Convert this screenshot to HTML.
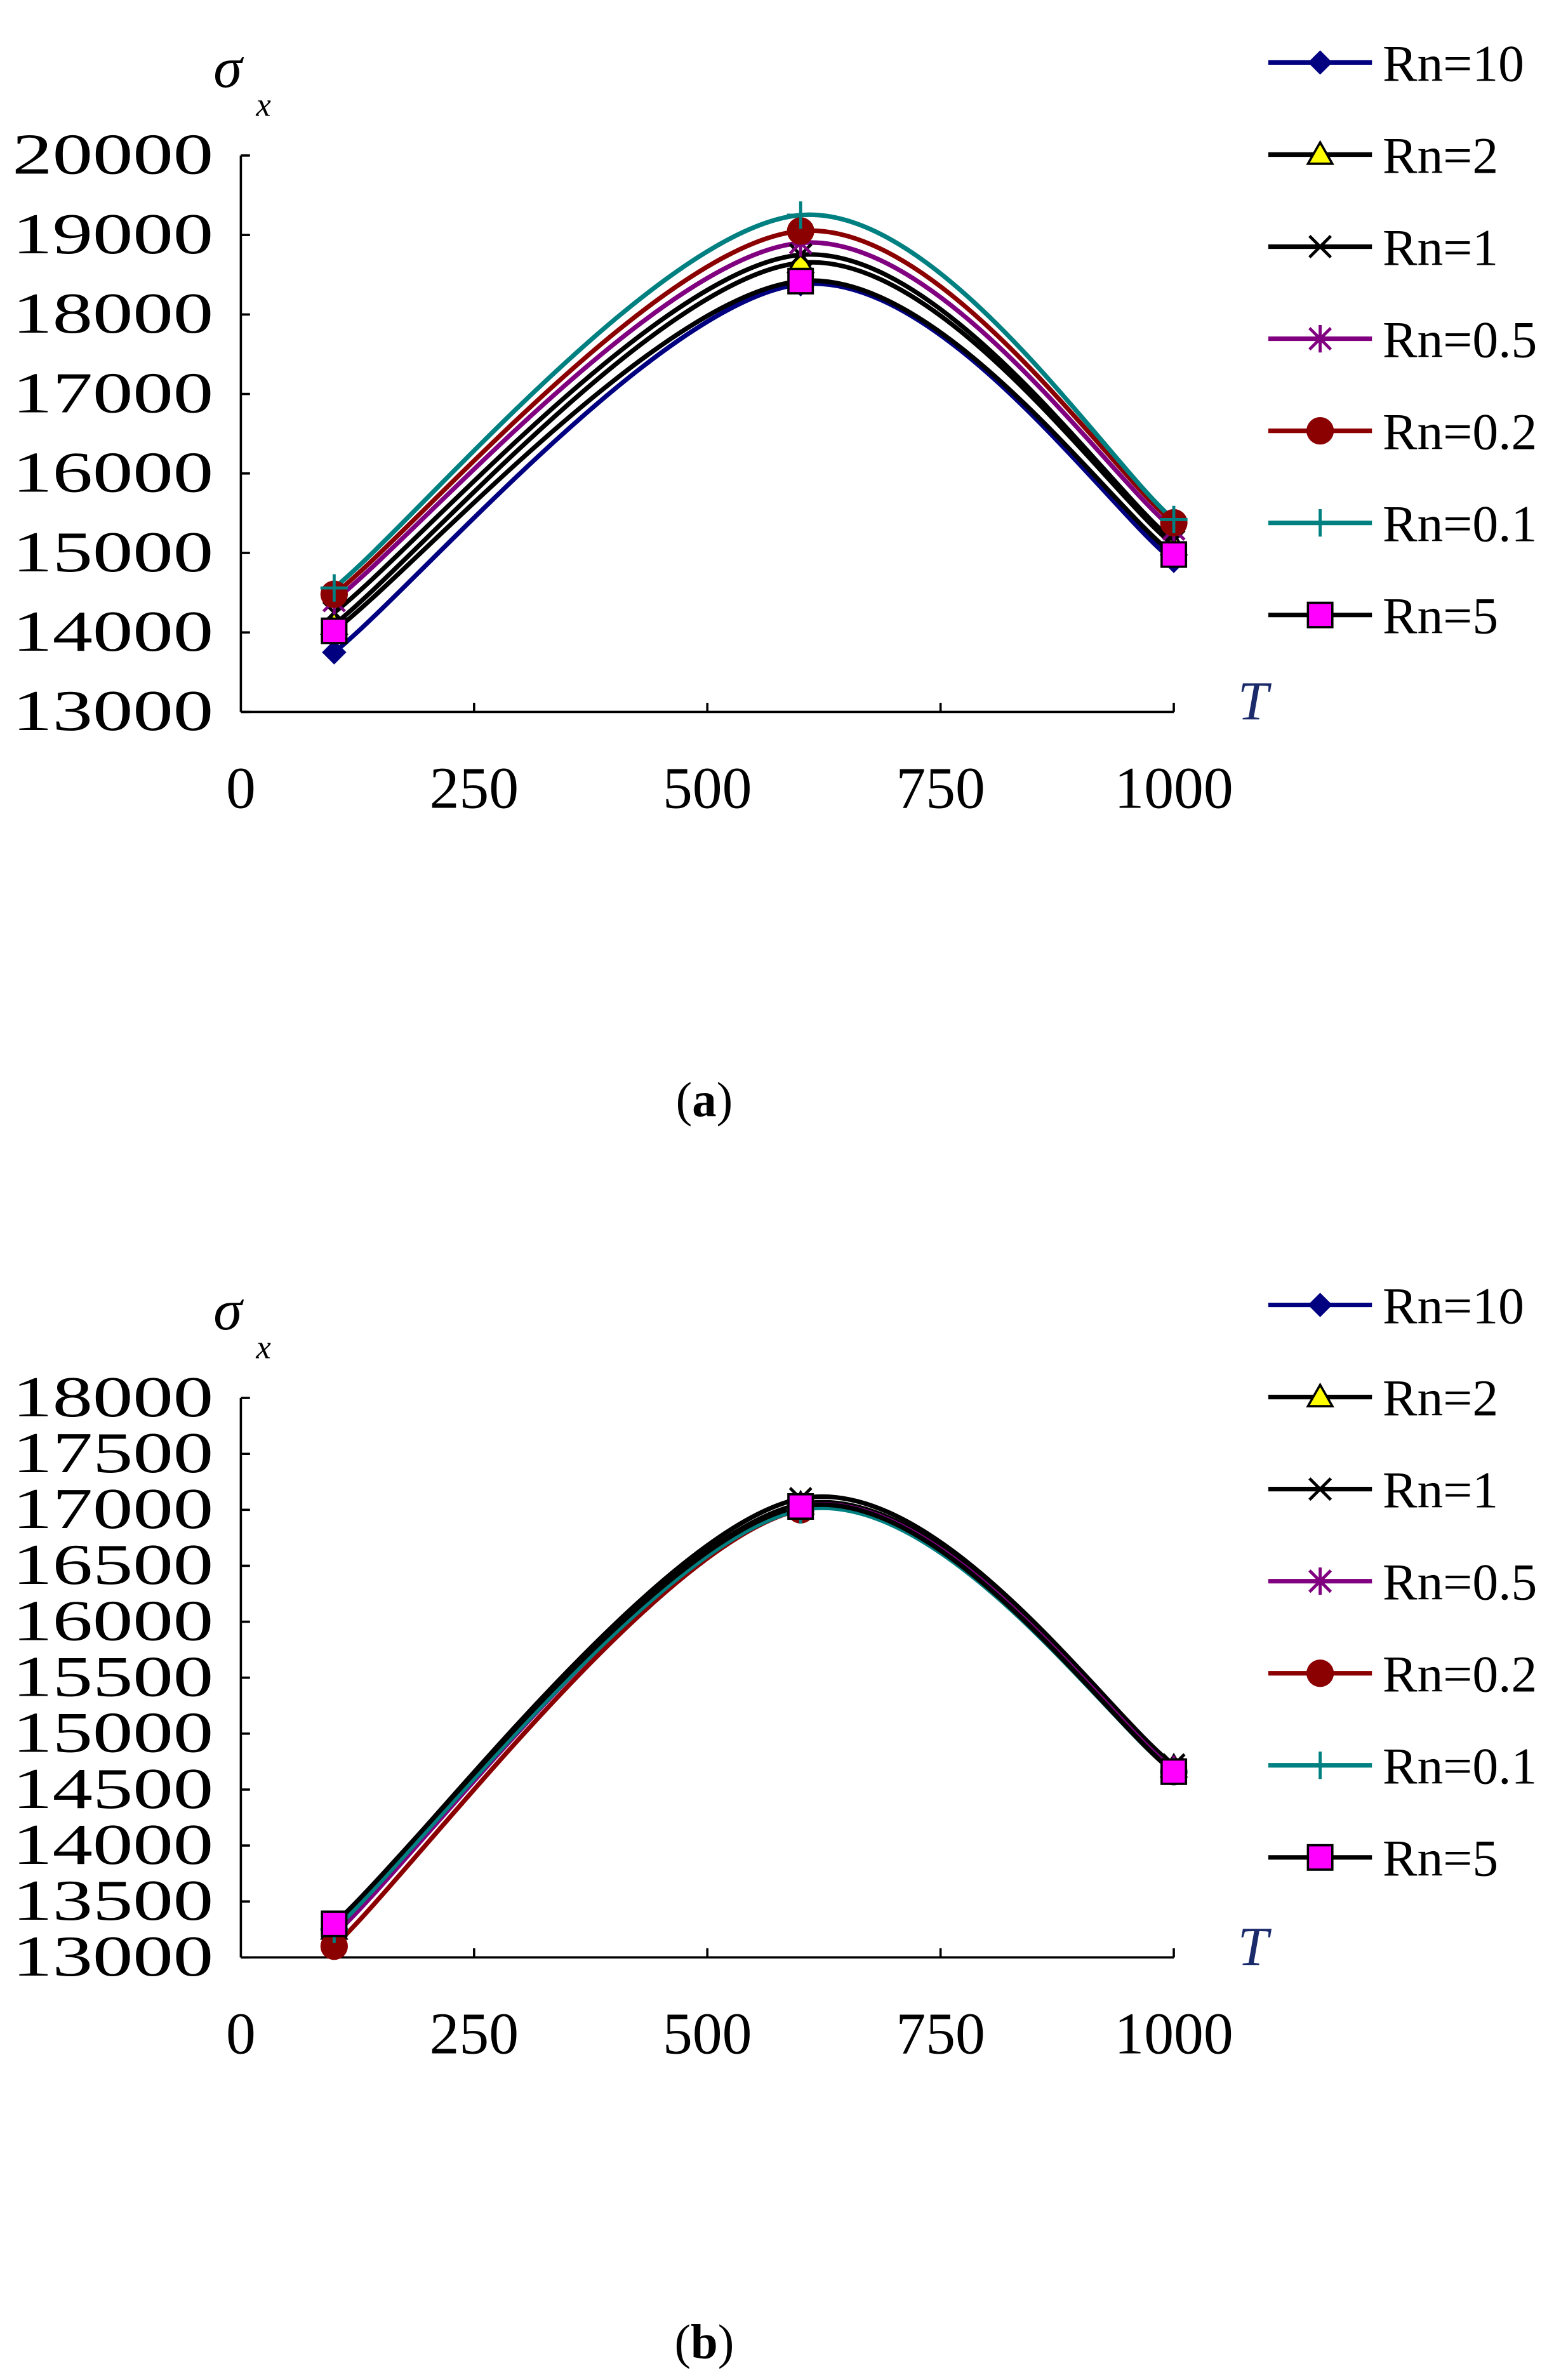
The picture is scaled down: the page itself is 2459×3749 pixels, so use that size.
<!DOCTYPE html>
<html><head><meta charset="utf-8"><style>
html,body{margin:0;padding:0;background:#fff;}
svg{display:block;}
text{font-family:"Liberation Serif",serif;}
</style></head><body>
<svg id="s" width="2459" height="3749" viewBox="0 0 1024 1561.2" preserveAspectRatio="none" xmlns="http://www.w3.org/2000/svg">
<rect width="1024" height="1562" fill="#fff"/>
</svg>
<script>
const S=document.getElementById('s');const NS='http://www.w3.org/2000/svg';
function el(t,a,txt){const e=document.createElementNS(NS,t);for(const k in a)e.setAttribute(k,a[k]);if(txt!==undefined)e.textContent=txt;S.appendChild(e);return e;}
const series=[
 {n:'Rn=10',c:'#000080',m:'diamond',mc:'#000080'},
 {n:'Rn=2',c:'#000000',m:'tri',mc:'#ffff00'},
 {n:'Rn=1',c:'#000000',m:'x',mc:'#000'},
 {n:'Rn=0.5',c:'#800080',m:'star',mc:'#800080'},
 {n:'Rn=0.2',c:'#8b0000',m:'circle',mc:'#8b0000'},
 {n:'Rn=0.1',c:'#008080',m:'plus',mc:'#008080'},
 {n:'Rn=5',c:'#000000',m:'square',mc:'#ff00ff'}];
function marker(m,x,y,mc){
 if(m=='diamond')el('path',{d:`M${x} ${y-8}L${x+8} ${y}L${x} ${y+8}L${x-8} ${y}Z`,fill:mc});
 else if(m=='tri')el('path',{d:`M${x} ${y-8}L${x+8} ${y+6}L${x-8} ${y+6}Z`,fill:mc,stroke:'#000','stroke-width':1.5});
 else if(m=='x')el('path',{d:`M${x-7} ${y-7}L${x+7} ${y+7}M${x+7} ${y-7}L${x-7} ${y+7}`,stroke:mc,'stroke-width':2});
 else if(m=='star')el('path',{d:`M${x-7} ${y-7}L${x+7} ${y+7}M${x+7} ${y-7}L${x-7} ${y+7}M${x} ${y-9}L${x} ${y+9}`,stroke:mc,'stroke-width':2});
 else if(m=='circle')el('circle',{cx:x,cy:y,r:9,fill:mc});
 else if(m=='plus')el('path',{d:`M${x-9} ${y}L${x+9} ${y}M${x} ${y-9}L${x} ${y+9}`,stroke:mc,'stroke-width':2});
 else if(m=='square')el('rect',{x:x-8,y:y-8,width:16,height:16,fill:mc,stroke:'#000','stroke-width':1.5});
}
function chart(oy,yTop,yBot,vmin,vmax,step,data,cap){
 const X=v=>158+v*612/1000, Y=v=>yBot-(v-vmin)*(yBot-yTop)/(vmax-vmin);
 el('line',{x1:158,y1:yTop,x2:158,y2:yBot,stroke:'#000','stroke-width':1.5});
 el('line',{x1:158,y1:yBot,x2:770,y2:yBot,stroke:'#000','stroke-width':1.5});
 for(let v=vmin;v<=vmax+1;v+=step){el('line',{x1:158,y1:Y(v),x2:164,y2:Y(v),stroke:'#000','stroke-width':1.5});
  el('text',{x:8,y:Y(v)+12,'font-size':38,textLength:132,lengthAdjust:'spacingAndGlyphs'},String(v));}
 for(let v=0;v<=1000;v+=250){if(v)el('line',{x1:X(v),y1:yBot,x2:X(v),y2:yBot-6,stroke:'#000','stroke-width':1.5});
  el('text',{x:X(v),y:yBot+63,'font-size':39,'text-anchor':'middle'},String(v));}
 el('text',{x:140,y:oy+57,'font-size':38,'font-style':'italic'},'σ');
 el('text',{x:168,y:oy+76,'font-size':22,'font-style':'italic'},'x');
 el('text',{x:812,y:yBot+5,'font-size':36,'font-style':'italic',fill:'#1a2a6a'},'T');
 const t=el('text',{x:462,y:oy+732,'font-size':32,'text-anchor':'middle'});
 t.innerHTML='(<tspan font-weight="bold">'+cap+'</tspan>)';
 series.forEach((s,i)=>{
  const p=[[100,data[i][0]],[600,data[i][1]],[1000,data[i][2]]].map(a=>[X(a[0]),Y(a[1])]);
  const P=[p[0],...p,p[2]];let d=`M${p[0][0]} ${p[0][1]}`;
  for(let k=1;k<3;k++){const a=P[k-1],b=P[k],c=P[k+1],e=P[k+2];
   d+=`C${b[0]+(c[0]-a[0])/6} ${b[1]+(c[1]-a[1])/6} ${c[0]-(e[0]-b[0])/6} ${c[1]-(e[1]-b[1])/6} ${c[0]} ${c[1]}`;}
  el('path',{d,fill:'none',stroke:s.c,'stroke-width':3});
 });
 series.forEach((s,i)=>{[[100,data[i][0]],[600,data[i][1]],[1000,data[i][2]]].forEach(a=>marker(s.m,X(a[0]),Y(a[1]),s.mc));});
 series.forEach((s,i)=>{const y=oy+41+i*60.4;
  el('line',{x1:832,y1:y,x2:900,y2:y,stroke:s.c,'stroke-width':3});marker(s.m,866,y,s.mc);
  el('text',{x:907,y:y+12,'font-size':34},s.n);});
}
chart(0,102,467,13000,20000,1000,[
 [13750,18380,14900],[14100,18650,15100],[14250,18750,15150],[14400,18900,15300],[14480,19050,15380],[14560,19250,15420],[14020,18420,14980]],'a');
chart(815,917,1284,13000,18000,500,[
 [13300,17020,14680],[13250,17050,14700],[13280,17100,14720],[13200,17030,14680],[13100,17000,14660],[13250,17000,14660],[13300,17030,14660]],'b');
</script>
</body></html>
